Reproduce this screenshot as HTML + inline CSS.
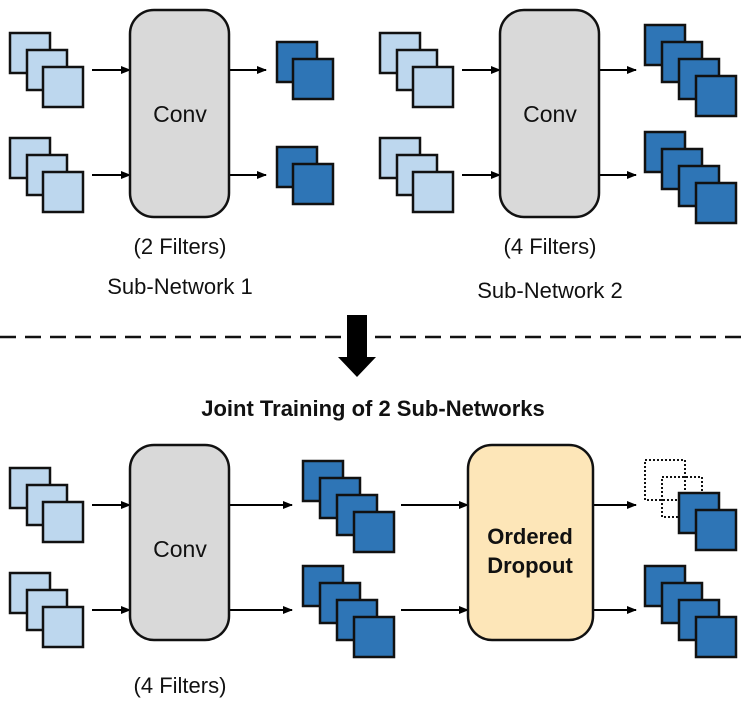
<!DOCTYPE html>
<html><head><meta charset="utf-8"><style>
body{margin:0;background:#fff}
svg text{font-family:"Liberation Sans",sans-serif;}
</style></head><body>
<svg width="747" height="707" viewBox="0 0 747 707" xmlns="http://www.w3.org/2000/svg">
<defs>
<marker id="ah" markerWidth="10" markerHeight="8" refX="9" refY="4" orient="auto" markerUnits="userSpaceOnUse">
<path d="M0,0 L10,4 L0,8 z" fill="#000"/></marker>
<g id="l3">
<rect x="0" y="0" width="40" height="40" fill="#bdd7ee" stroke="#111" stroke-width="2.5"/>
<rect x="17" y="17" width="40" height="40" fill="#bdd7ee" stroke="#111" stroke-width="2.5"/>
<rect x="33" y="34" width="40" height="40" fill="#bdd7ee" stroke="#111" stroke-width="2.5"/>
</g>
<g id="d2">
<rect x="0" y="0" width="40" height="40" fill="#2e75b6" stroke="#111" stroke-width="2.5"/>
<rect x="16" y="17" width="40" height="40" fill="#2e75b6" stroke="#111" stroke-width="2.5"/>
</g>
<g id="d4">
<rect x="0" y="0" width="40" height="40" fill="#2e75b6" stroke="#111" stroke-width="2.5"/>
<rect x="17" y="17" width="40" height="40" fill="#2e75b6" stroke="#111" stroke-width="2.5"/>
<rect x="34" y="34" width="40" height="40" fill="#2e75b6" stroke="#111" stroke-width="2.5"/>
<rect x="51" y="51" width="40" height="40" fill="#2e75b6" stroke="#111" stroke-width="2.5"/>
</g>
</defs>
<g stroke="#000" stroke-width="2" marker-end="url(#ah)">
<line x1="92" y1="70" x2="130" y2="70"/><line x1="92" y1="175" x2="130" y2="175"/>
<line x1="229" y1="70" x2="266" y2="70"/><line x1="229" y1="175" x2="266" y2="175"/>
<line x1="462" y1="70" x2="500" y2="70"/><line x1="462" y1="175" x2="500" y2="175"/>
<line x1="599" y1="70" x2="636" y2="70"/><line x1="599" y1="175" x2="636" y2="175"/>
<line x1="92" y1="505" x2="130" y2="505"/><line x1="92" y1="610" x2="130" y2="610"/>
<line x1="229" y1="505" x2="292" y2="505"/><line x1="229" y1="610" x2="292" y2="610"/>
<line x1="401" y1="505" x2="468" y2="505"/><line x1="401" y1="610" x2="468" y2="610"/>
<line x1="593" y1="505" x2="636" y2="505"/><line x1="593" y1="610" x2="636" y2="610"/>
</g>
<use href="#l3" x="10" y="33"/><use href="#l3" x="10" y="138"/>
<use href="#l3" x="380" y="33"/><use href="#l3" x="380" y="138"/>
<use href="#l3" x="10" y="468"/><use href="#l3" x="10" y="573"/>
<rect x="130" y="10" width="99" height="207" rx="24" fill="#d9d9d9" stroke="#111" stroke-width="2.5"/>
<rect x="500" y="10" width="99" height="207" rx="24" fill="#d9d9d9" stroke="#111" stroke-width="2.5"/>
<rect x="130" y="445" width="99" height="195" rx="24" fill="#d9d9d9" stroke="#111" stroke-width="2.5"/>
<rect x="468" y="445" width="125" height="195" rx="24" fill="#fde6b8" stroke="#111" stroke-width="2.5"/>
<text x="180" y="122" font-size="23" text-anchor="middle" fill="#111">Conv</text>
<text x="550" y="122" font-size="23" text-anchor="middle" fill="#111">Conv</text>
<text x="180" y="557" font-size="23" text-anchor="middle" fill="#111">Conv</text>
<text x="530" y="544" font-size="22" font-weight="bold" text-anchor="middle" fill="#111">Ordered</text>
<text x="530" y="573" font-size="22" font-weight="bold" text-anchor="middle" fill="#111">Dropout</text>
<use href="#d2" x="277" y="42"/><use href="#d2" x="277" y="147"/>
<use href="#d4" x="645" y="25"/><use href="#d4" x="645" y="132"/>
<use href="#d4" x="303" y="461"/><use href="#d4" x="303" y="566"/>
<rect x="645" y="460" width="40" height="40" fill="none" stroke="#111" stroke-width="2" stroke-dasharray="2,2"/>
<rect x="662" y="477" width="40" height="40" fill="none" stroke="#111" stroke-width="2" stroke-dasharray="2,2"/>
<rect x="679" y="493" width="40" height="40" fill="#2e75b6" stroke="#111" stroke-width="2.5"/>
<rect x="696" y="510" width="40" height="40" fill="#2e75b6" stroke="#111" stroke-width="2.5"/>
<use href="#d4" x="645" y="566"/>
<text x="180" y="254" font-size="22" text-anchor="middle" fill="#111">(2 Filters)</text>
<text x="180" y="294" font-size="22" text-anchor="middle" fill="#111">Sub-Network 1</text>
<text x="550" y="254" font-size="22" text-anchor="middle" fill="#111">(4 Filters)</text>
<text x="550" y="298" font-size="22" text-anchor="middle" fill="#111">Sub-Network 2</text>
<text x="180" y="693" font-size="22" text-anchor="middle" fill="#111">(4 Filters)</text>
<line x1="0" y1="337" x2="747" y2="337" stroke="#111" stroke-width="2.5" stroke-dasharray="16,9"/>
<path d="M347,315 H367 V357 H376 L357,377 L338,357 H347 Z" fill="#000"/>
<text x="373" y="416" font-size="22" font-weight="bold" text-anchor="middle" fill="#111">Joint Training of 2 Sub-Networks</text>
</svg>
</body></html>
